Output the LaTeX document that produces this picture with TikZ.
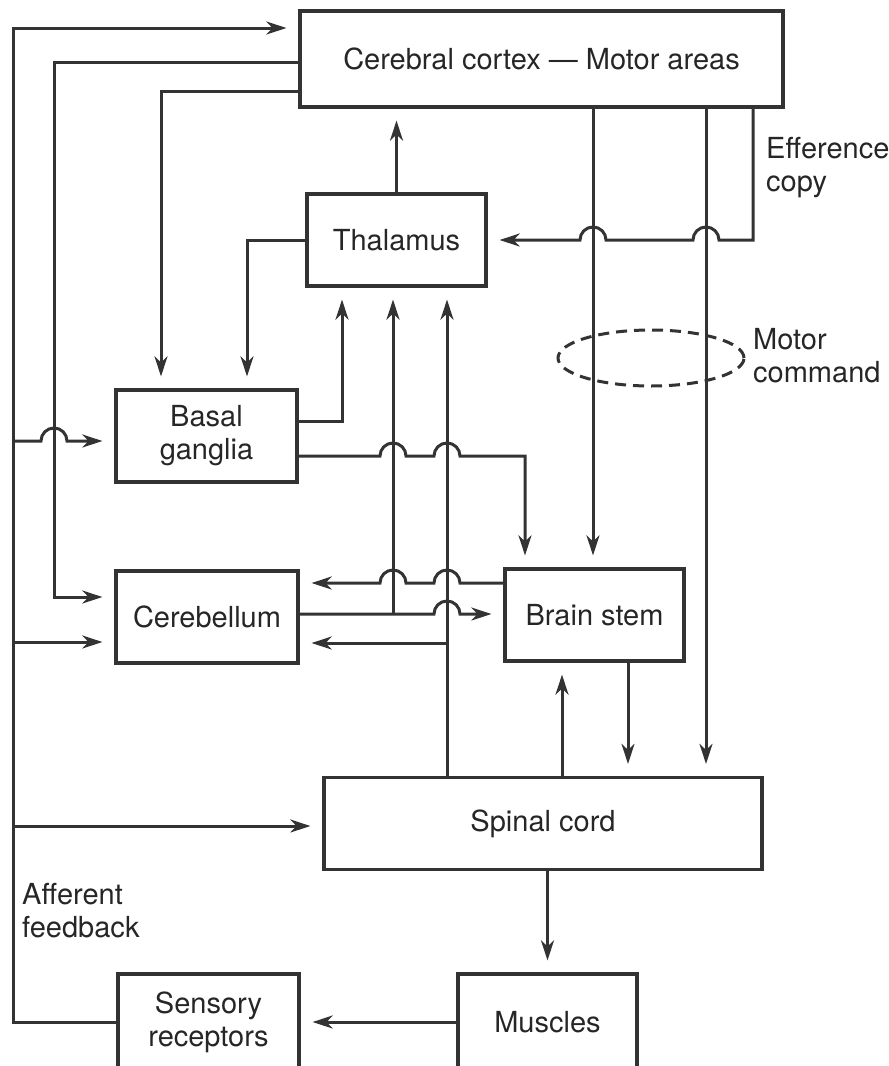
\documentclass[tikz,border=0pt]{standalone}
\usepackage{fontspec}
\setmainfont{TeX Gyre Heros}
\usetikzlibrary{arrows.meta}

\begin{document}
\begin{tikzpicture}[x=1pt, y=-1pt, >={Stealth[length=20pt,width=13pt,inset=6pt]},
    box/.style={draw=black!80, line width=3.2pt, minimum width=#1, minimum height=92pt,
        inner sep=0pt, align=center, text=black!85, font=\fontsize{29}{33}\selectfont},
    box/.default=180pt,
    note/.style={anchor=west, align=left, inner sep=0pt, text=black!85,
        font=\fontsize{29}{33}\selectfont},
    link/.style={draw=black!80, line width=3pt},
    arr/.style={link, ->, shorten >=12pt}]
    \useasboundingbox (0,0) rectangle (889,1066);

    \node[box=483pt, minimum height=96pt] (cortex) at (541.5,59) {Cerebral cortex — Motor areas};
    \node[box=179pt] (thal) at (396.5,240) {Thalamus};
    \node[box=181pt] (basal) at (206.5,436) {Basal\\ganglia};
    \node[box=182pt] (cereb) at (207,617) {Cerebellum};
    \node[box=179pt] (stem) at (594.5,615) {Brain stem};
    \node[box=438pt] (spinal) at (543,823.5) {Spinal cord};
    \node[box=179pt, minimum height=96pt] (musc) at (547.5,1022) {Muscles};
    \node[box=181pt, minimum height=96pt] (sens) at (208.5,1022) {Sensory\\receptors};

    \node[note] (effc) at (766,168) {Efference\\copy};
    \node[note] (mcmd) at (753,356) {Motor\\command};
    \node[note] (afb) at (22,911) {Afferent\\feedback};

    % afferent feedback rail
    \draw[arr] (sens.west) -| (13,28) -- (cortex.west |- 0,28);
    \draw[arr] (13,441) -- (41,441) arc[start angle=180,end angle=0,radius=13pt]
        -- (basal.west |- 0,441);
    \draw[arr] (13,642) -- (cereb.west |- 0,642);
    \draw[arr] (13,826) -- (spinal.west |- 0,826);

    % cortex outputs
    \draw[arr] (cortex.west |- 0,62) -| (54,597) -- (cereb.west |- 0,597);
    \draw[arr] (cortex.west |- 0,91) -| (basal.north -| 161,0);
    \draw[arr] (cortex.south -| 593,0) -- (stem.north -| 593,0);
    \draw[arr] (cortex.south -| 706,0) -- (spinal.north -| 706,0);
    \draw[arr] (cortex.south -| 753,0) -- (753,240)
        -- (719,240) arc[start angle=0,end angle=180,radius=13pt]
        -- (606,240) arc[start angle=0,end angle=180,radius=13pt]
        -- (thal.east);
    \draw[link, dash pattern=on 11pt off 7pt] (651,358) ellipse [x radius=93pt, y radius=28pt];

    % thalamus
    \draw[arr] (thal.north) -- (cortex.south -| thal.north);
    \draw[arr] (thal.west) -| (basal.north -| 247,0);

    % basal ganglia
    \draw[arr] (basal.east |- 0,421) -| (thal.south -| 342,0);
    \draw[arr] (basal.east |- 0,456) -- (380,456) arc[start angle=180,end angle=0,radius=13pt]
        -- (434,456) arc[start angle=180,end angle=0,radius=13pt]
        -- (525,456) -- (stem.north -| 525,0);

    % cerebellum and brain stem
    \coordinate (cbsplit) at (393,614);
    \coordinate (spsplit) at (447,643);
    \draw[arr] (stem.west |- 0,583) -- (460,583) arc[start angle=0,end angle=180,radius=13pt]
        -- (406,583) arc[start angle=0,end angle=180,radius=13pt]
        -- (cereb.east |- 0,583);
    \draw[arr] (cereb.east |- cbsplit) -- (434,614) arc[start angle=180,end angle=0,radius=13pt]
        -- (stem.west |- cbsplit);
    \draw[arr] (cbsplit) -- (thal.south -| cbsplit);
    \draw[arr] (spinal.north -| spsplit) -- (thal.south -| spsplit);
    \draw[arr] (spsplit) -- (cereb.east |- spsplit);

    % spinal cord
    \draw[arr] (spinal.north -| 562,0) -- (stem.south -| 562,0);
    \draw[arr] (stem.south -| 628,0) -- (spinal.north -| 628,0);
    \draw[arr] (spinal.south -| musc.north) -- (musc.north);
    \draw[arr] (musc.west) -- (sens.east);
\end{tikzpicture}
\end{document}
